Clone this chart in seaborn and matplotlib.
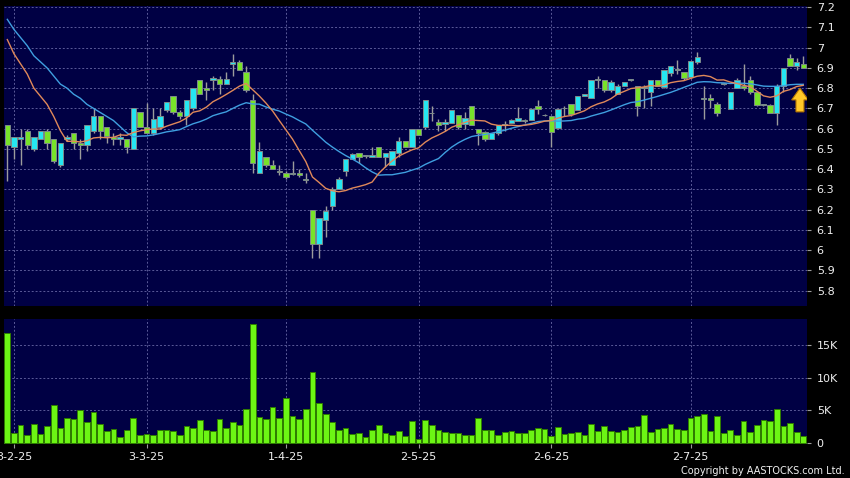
import numpy as np
import pandas as pd
import matplotlib
matplotlib.use("Agg")
import matplotlib.pyplot as plt
import seaborn as sns
from matplotlib.patches import FancyArrow

# ---------------- data ----------------
open_ = [6.62, 6.51, 6.55, 6.59, 6.50, 6.55, 6.59, 6.55, 6.42, 6.55,
         6.58, 6.53, 6.52, 6.59, 6.66, 6.61, 6.56, 6.55, 6.55, 6.50,
         6.68, 6.61, 6.58, 6.61, 6.69, 6.76, 6.68, 6.66, 6.70, 6.84,
         6.80, 6.84, 6.845, 6.82, 6.92, 6.93, 6.88, 6.74, 6.38, 6.46,
         6.42, 6.39, 6.38, 6.375, 6.38, 6.352, 6.20, 6.03, 6.15, 6.22,
         6.30, 6.39, 6.45, 6.48, 6.465, 6.46, 6.51, 6.46, 6.42, 6.48,
         6.54, 6.51, 6.60, 6.61, 6.675, 6.635, 6.625, 6.63, 6.665, 6.625,
         6.71, 6.60, 6.585, 6.55, 6.58, 6.62, 6.63, 6.64, 6.645, 6.645,
         6.71, 6.665, 6.66, 6.605, 6.70, 6.72, 6.69, 6.76, 6.75, 6.84,
         6.84, 6.79, 6.77, 6.81, 6.84, 6.81, 6.80, 6.78, 6.84, 6.805,
         6.875, 6.89, 6.88, 6.855, 6.93, 6.745, 6.75, 6.72, 6.82, 6.695,
         6.80, 6.81, 6.84, 6.78, 6.717, 6.717, 6.676, 6.81, 6.95, 6.91,
         6.92]
high = [6.62, 6.56, 6.60, 6.60, 6.56, 6.59, 6.60, 6.55, 6.53, 6.57,
        6.58, 6.55, 6.62, 6.70, 6.66, 6.61, 6.58, 6.58, 6.55, 6.70,
        6.68, 6.725, 6.70, 6.70, 6.73, 6.76, 6.69, 6.74, 6.80, 6.84,
        6.83, 6.86, 6.86, 6.88, 6.97, 6.94, 6.91, 6.77, 6.535, 6.46,
        6.445, 6.42, 6.39, 6.44, 6.40, 6.38, 6.20, 6.16, 6.22, 6.31,
        6.36, 6.45, 6.48, 6.48, 6.47, 6.51, 6.51, 6.48, 6.49, 6.56,
        6.54, 6.60, 6.60, 6.74, 6.71, 6.65, 6.65, 6.69, 6.665, 6.68,
        6.71, 6.60, 6.59, 6.58, 6.62, 6.64, 6.65, 6.705, 6.65, 6.70,
        6.74, 6.67, 6.66, 6.70, 6.71, 6.72, 6.76, 6.77, 6.84, 6.86,
        6.84, 6.84, 6.82, 6.83, 6.845, 6.81, 6.815, 6.84, 6.84, 6.89,
        6.91, 6.94, 6.88, 6.935, 6.98, 6.81, 6.77, 6.73, 6.825, 6.78,
        6.85, 6.92, 6.86, 6.78, 6.72, 6.72, 6.82, 6.90, 6.97, 6.95,
        6.96]
low = [6.34, 6.45, 6.42, 6.50, 6.49, 6.55, 6.50, 6.43, 6.41, 6.54,
       6.50, 6.45, 6.49, 6.58, 6.55, 6.53, 6.52, 6.52, 6.48, 6.50,
       6.61, 6.58, 6.57, 6.60, 6.68, 6.67, 6.65, 6.62, 6.69, 6.77,
       6.74, 6.79, 6.77, 6.82, 6.86, 6.89, 6.78, 6.38, 6.38, 6.41,
       6.40, 6.37, 6.35, 6.37, 6.36, 6.33, 5.96, 5.96, 6.065, 6.20,
       6.30, 6.365, 6.45, 6.43, 6.455, 6.46, 6.46, 6.41, 6.42, 6.46,
       6.51, 6.51, 6.57, 6.60, 6.64, 6.59, 6.59, 6.63, 6.60, 6.60,
       6.62, 6.52, 6.54, 6.55, 6.57, 6.59, 6.63, 6.64, 6.63, 6.645,
       6.67, 6.66, 6.51, 6.60, 6.66, 6.66, 6.69, 6.76, 6.75, 6.80,
       6.78, 6.78, 6.77, 6.81, 6.835, 6.66, 6.70, 6.71, 6.81, 6.80,
       6.86, 6.87, 6.84, 6.85, 6.92, 6.65, 6.70, 6.66, 6.815, 6.695,
       6.80, 6.79, 6.77, 6.71, 6.71, 6.675, 6.62, 6.78, 6.91, 6.89,
       6.90]
close = [6.52, 6.56, 6.56, 6.52, 6.56, 6.59, 6.53, 6.44, 6.53, 6.56,
         6.53, 6.52, 6.62, 6.66, 6.59, 6.565, 6.55, 6.56, 6.51, 6.70,
         6.61, 6.58, 6.65, 6.66, 6.73, 6.68, 6.66, 6.74, 6.80, 6.77,
         6.79, 6.85, 6.82, 6.845, 6.93, 6.89, 6.79, 6.43, 6.49, 6.42,
         6.40, 6.385, 6.36, 6.38, 6.37, 6.348, 6.03, 6.16, 6.195, 6.30,
         6.35, 6.45, 6.475, 6.46, 6.465, 6.47, 6.46, 6.48, 6.49, 6.54,
         6.51, 6.60, 6.57, 6.74, 6.675, 6.62, 6.635, 6.69, 6.61, 6.655,
         6.62, 6.58, 6.55, 6.58, 6.62, 6.62, 6.645, 6.655, 6.64, 6.695,
         6.695, 6.665, 6.585, 6.695, 6.70, 6.67, 6.76, 6.77, 6.84, 6.84,
         6.79, 6.83, 6.81, 6.83, 6.84, 6.71, 6.80, 6.84, 6.81, 6.89,
         6.91, 6.89, 6.85, 6.935, 6.955, 6.745, 6.74, 6.676, 6.82, 6.78,
         6.84, 6.80, 6.78, 6.717, 6.717, 6.676, 6.81, 6.90, 6.91, 6.93,
         6.90]
volume = [16800, 1600, 2800, 1300, 3000, 1400, 2700, 5900, 2300, 3800,
          3700, 5000, 3200, 4700, 3000, 1800, 2200, 1000, 2100, 3800,
          1300, 1400, 1300, 2100, 2100, 1800, 1300, 2600, 2400, 3600,
          2000, 1800, 3700, 2300, 3300, 2800, 5200, 18100, 4000, 3700,
          5500, 3900, 6900, 4200, 3700, 5200, 10900, 6100, 4500, 3200,
          2100, 2300, 1400, 1500, 900, 2100, 2800, 1600, 1200, 1900,
          1100, 3400, 700, 3500, 2800, 2000, 1700, 1600, 1500, 1300,
          1200, 3900, 2100, 2100, 1300, 1700, 1800, 1500, 1500, 2000,
          2400, 2200, 1100, 2500, 1400, 1600, 1700, 1200, 2900, 1900,
          2700, 1900, 1700, 2100, 2500, 2700, 4300, 1700, 2200, 2400,
          2900, 2200, 2100, 3800, 4100, 4400, 1900, 4100, 1600, 2100,
          1300, 3400, 1700, 2800, 3600, 3400, 5200, 2700, 3100, 1700,
          1100]
ma10 = [7.040, 6.970, 6.920, 6.870, 6.800, 6.760, 6.720, 6.660, 6.590, 6.537,
        6.538, 6.534, 6.540, 6.554, 6.557, 6.555, 6.557, 6.569, 6.567, 6.581,
        6.589, 6.595, 6.598, 6.598, 6.612, 6.623, 6.634, 6.652, 6.681, 6.688,
        6.706, 6.733, 6.750, 6.769, 6.789, 6.810, 6.823, 6.792, 6.761, 6.726,
        6.687, 6.640, 6.594, 6.548, 6.492, 6.437, 6.361, 6.334, 6.305, 6.293,
        6.288, 6.294, 6.306, 6.314, 6.323, 6.336, 6.379, 6.411, 6.440, 6.464,
        6.480, 6.495, 6.505, 6.533, 6.554, 6.569, 6.586, 6.607, 6.619, 6.631,
        6.642, 6.640, 6.638, 6.622, 6.616, 6.616, 6.617, 6.614, 6.617, 6.621,
        6.628, 6.637, 6.640, 6.652, 6.660, 6.665, 6.676, 6.688, 6.708, 6.722,
        6.732, 6.748, 6.771, 6.784, 6.798, 6.802, 6.806, 6.813, 6.810, 6.815,
        6.827, 6.833, 6.837, 6.848, 6.859, 6.863, 6.857, 6.840, 6.841, 6.830,
        6.823, 6.814, 6.807, 6.785, 6.762, 6.755, 6.762, 6.784, 6.793, 6.808,
        6.814]
ma20 = [7.140, 7.090, 7.050, 7.010, 6.960, 6.930, 6.900, 6.860, 6.820, 6.800,
        6.770, 6.750, 6.720, 6.700, 6.680, 6.660, 6.640, 6.610, 6.580, 6.559,
        6.563, 6.564, 6.569, 6.576, 6.584, 6.589, 6.595, 6.610, 6.624, 6.634,
        6.647, 6.664, 6.674, 6.683, 6.700, 6.716, 6.728, 6.722, 6.721, 6.707,
        6.696, 6.687, 6.672, 6.658, 6.640, 6.623, 6.592, 6.563, 6.533, 6.509,
        6.487, 6.467, 6.450, 6.431, 6.407, 6.386, 6.370, 6.372, 6.372, 6.378,
        6.384, 6.395, 6.405, 6.423, 6.438, 6.452, 6.482, 6.509, 6.530, 6.547,
        6.561, 6.567, 6.571, 6.577, 6.585, 6.592, 6.602, 6.610, 6.618, 6.626,
        6.635, 6.638, 6.639, 6.637, 6.638, 6.640, 6.647, 6.651, 6.662, 6.671,
        6.680, 6.692, 6.705, 6.718, 6.729, 6.733, 6.741, 6.750, 6.759, 6.769,
        6.779, 6.791, 6.804, 6.816, 6.829, 6.832, 6.831, 6.827, 6.826, 6.823,
        6.825, 6.824, 6.822, 6.816, 6.810, 6.809, 6.809, 6.812, 6.817, 6.819,
        6.819]
date_labels = ["3-2-25", "3-3-25", "1-4-25", "2-5-25", "2-6-25", "2-7-25"]
date_index = [1, 21, 42, 62, 82, 103]
price_ticks = [5.8, 5.9, 6.0, 6.1, 6.2, 6.3, 6.4, 6.5, 6.6, 6.7, 6.8, 6.9, 7.0, 7.1, 7.2]
volume_ticks = [0, 5000, 10000, 15000]
volume_tick_labels = ["0", "5K", "10K", "15K"]

# ---------------- styling ----------------
NAVY = "#000044"
GRID = "#5a5a98"
CYAN = "#25e6f2"
GREEN = "#78e32a"
EDGE = "#7d8a8a"
WICK = "#9c9c9c"
VOL = "#6cf514"
VOL_EDGE = "#2f7d00"
ORANGE = "#e0895a"
BLUE = "#3f9fe0"
TXT = "#f0f0f0"

df = pd.DataFrame({"idx": np.arange(len(close)), "open": open_, "high": high,
                   "low": low, "close": close, "volume": volume,
                   "ma10": ma10, "ma20": ma20})

fig = plt.figure(figsize=(8.5, 4.78), dpi=100, facecolor="black")
ax = fig.add_axes([4 / 850, 1 - 306 / 478, 803 / 850, 300 / 478])
axv = fig.add_axes([4 / 850, 1 - 444 / 478, 803 / 850, 125 / 478])
for a in (ax, axv):
    a.set_facecolor(NAVY)
    for s in a.spines.values():
        s.set_visible(False)
    a.set_axisbelow(True)

# candles
o = df["open"].to_numpy()
c = df["close"].to_numpy()
up = c >= o
ax.vlines(df["idx"], df["low"], df["high"], color=WICK, linewidth=1.0, zorder=2)
body_bottom = np.minimum(o, c)
body_h = np.maximum(np.abs(c - o), 0.004)
ax.bar(df["idx"], body_h, bottom=body_bottom, width=0.8,
       color=np.where(up, CYAN, GREEN), edgecolor=EDGE, linewidth=0.7, zorder=3)

# moving averages
sns.lineplot(data=df, x="idx", y="ma20", ax=ax, color=BLUE, linewidth=1.0, zorder=4)
sns.lineplot(data=df, x="idx", y="ma10", ax=ax, color=ORANGE, linewidth=1.0, zorder=5)

# volume
sns.barplot(data=df, x="idx", y="volume", ax=axv, native_scale=True, color=VOL,
            saturation=1, edgecolor=VOL_EDGE, linewidth=0.7, width=0.86,
            errorbar=None, zorder=3)

# arrow marker at the latest bar
last = len(close) - 1
ax.add_patch(FancyArrow(last - 0.5, 6.683, 0, 0.117, width=1.2, head_width=2.5,
                        head_length=0.058, length_includes_head=True,
                        facecolor="#ffc828", edgecolor="#b87800", linewidth=0.8,
                        zorder=7))

xmin, xmax = -0.5, 120.56
for a in (ax, axv):
    a.set_xlim(xmin, xmax)
    a.set_xlabel("")
    a.set_ylabel("")
    a.set_xticks(date_index)
    a.xaxis.grid(True, color=GRID, linestyle=(0, (2, 2)), linewidth=0.7)
    a.yaxis.grid(True, color=GRID, linestyle=(0, (2, 2)), linewidth=0.7)
    a.yaxis.tick_right()
    a.tick_params(axis="y", colors=WICK, labelcolor=TXT, length=3, width=0.8,
                  pad=4, labelsize=8)

ax.set_ylim(5.7235, 7.206)
ax.set_yticks(price_ticks)
ax.set_yticklabels([f"{v:g}" for v in price_ticks])
ax.tick_params(axis="x", length=0, labelbottom=False)

axv.set_ylim(-100, 18890)
axv.set_yticks(volume_ticks)
axv.set_yticklabels(volume_tick_labels)
axv.set_xticklabels(date_labels)
axv.tick_params(axis="x", colors=WICK, labelcolor=TXT, length=3, width=0.8,
                pad=3, labelsize=8)

fig.text(845 / 850, 1 - 471 / 478, "Copyright by AASTOCKS.com Ltd.",
         ha="right", va="center", color=TXT, fontsize=7)

fig.savefig("out.png", dpi=100, facecolor="black")
